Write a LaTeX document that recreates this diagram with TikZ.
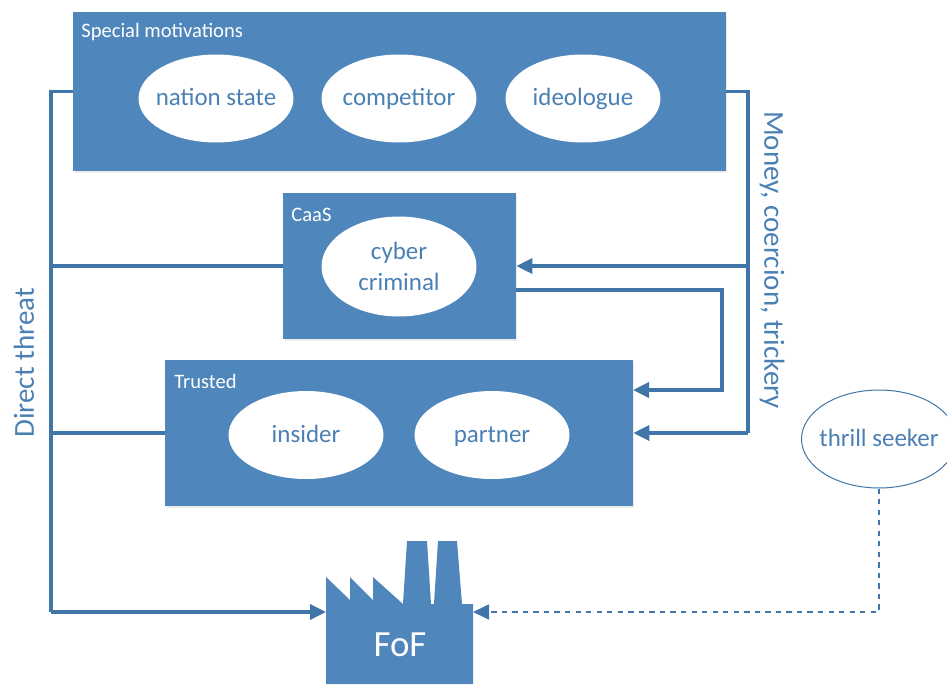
\documentclass[tikz,border=0pt]{standalone}
\usepackage{fontspec}
\setmainfont{Carlito}
\usepackage{xcolor}
\usetikzlibrary{positioning, arrows.meta, shadows, shapes.geometric}
\definecolor{boxblue}{HTML}{4F86BB}
\definecolor{lineblue}{HTML}{3F75A8}
\definecolor{textblue}{HTML}{4A80B4}

\begin{document}
\begin{tikzpicture}[x=0.02cm, y=-0.02cm,
  group node/.style={rectangle,fill=boxblue,drop shadow={opacity=0.15,shadow xshift=0.03cm,shadow yshift=-0.04cm}},
  actor node/.style={ellipse,fill=white,text=textblue,align=center,minimum width=3.1cm,minimum height=1.76cm,inner xsep=-0.4cm,inner ysep=0pt,font=\fontsize{14.2}{17.6}\selectfont},
  single line/.style={text height=0.95em,text depth=0.14em},
  tag node/.style={anchor=west,text=white,inner sep=0pt,font=\fontsize{11.7}{14}\selectfont},
  side node/.style={text=textblue,inner sep=0pt,font=\fontsize{16.5}{20}\selectfont},
  link/.style={draw=lineblue,line width=0.07cm,line join=miter},
  feed/.style={link,-{Triangle[length=0.32cm,width=0.3cm]}}]

\useasboundingbox (0,0) rectangle (947,684);

\node[group node,minimum width=13.06cm,minimum height=3.18cm] (special) at (399.5,91.5) {};
\node[group node,minimum width=4.66cm,minimum height=2.92cm] (caas) at (399.5,266) {};
\node[group node,minimum width=9.36cm,minimum height=2.92cm] (trusted) at (399,433) {};

\node[tag node] (specialtag) at (81,32) {Special motivations};
\node[tag node] (caastag) at (291,215) {CaaS};
\node[tag node] (trustedtag) at (174,381) {Trusted};

\node[actor node,single line] (nation) at (216,98.5) {nation state};
\node[actor node,single line] (competitor) at (399,98.5) {competitor};
\node[actor node,single line] (ideologue) at (583,98.5) {ideologue};
\node[actor node,minimum height=2cm] (cyber) at (399,266.5) {cyber\\criminal};
\node[actor node,single line] (insider) at (306,435) {insider};
\node[actor node,single line] (partner) at (492,435) {partner};
\node[actor node,single line,draw=lineblue,line width=0.02cm,minimum height=1.96cm] (thrill) at (879,439) {thrill seeker};

% the factory
\fill[boxblue] (326,577) -- (350,600) -- (350,577) -- (373,600) -- (373,577) -- (403,604)
  -- (407,541) -- (427,541) -- (431,604) -- (434,604) -- (438,541) -- (457,541)
  -- (462,604) -- (473,604) -- (473,684) -- (326,684) -- cycle;
\node[text=white,inner sep=0pt,font=\fontsize{21}{25}\selectfont] (fof) at (400,645) {FoF};
\coordinate (fofleft) at (326,612);
\coordinate (fofright) at (473,612);

\coordinate (threatbus) at (51,612);
\coordinate (moneybus) at (748,433);
\coordinate (caasout) at (516,290);
\coordinate (caasturn) at (722,290);
\coordinate (trustedin) at (633,390);
\coordinate (thrillturn) at (879,612);

\draw[link] (special.west) -| (threatbus);
\draw[link] (caas.west) -- (threatbus |- caas.west);
\draw[link] (trusted.west) -- (threatbus |- trusted.west);
\draw[feed] (threatbus) -- (fofleft);

\draw[link] (special.east) -| (moneybus);
\draw[feed] (moneybus) -- (trusted.east);
\draw[feed] (moneybus |- caas.east) -- (caas.east);
\draw[feed] (caasout) -- (caasturn) |- (trustedin);

\draw[draw=lineblue,line width=0.035cm,dashed,-{Triangle[length=0.32cm,width=0.3cm]}]
  (thrill.south) -- (thrillturn) -- (fofright);

\node[side node,rotate=90] (threatlabel) at (24,363) {Direct threat};
\node[side node,rotate=-90] (moneylabel) at (772,260) {Money, coercion, trickery};
\end{tikzpicture}
\end{document}
